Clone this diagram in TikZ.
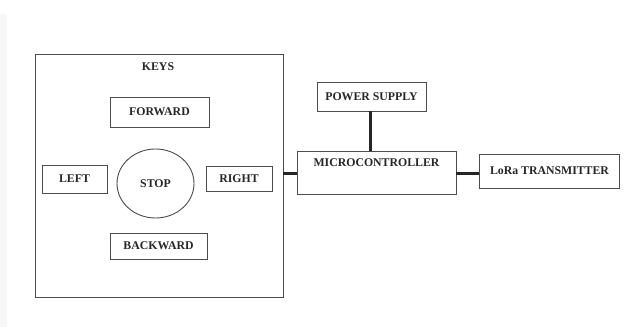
\documentclass[tikz,border=0pt]{standalone}
\usepackage{fontspec}
\setmainfont{Liberation Serif}
\usetikzlibrary{shapes.geometric}
\begin{document}
\begin{tikzpicture}[x=1pt,y=-1pt,
  blk/.style={draw=black!70, line width=0.9pt, inner sep=0pt, font=\fontsize{11.8}{13}\selectfont\bfseries, text=black!85},
  lbl/.style={inner sep=0pt, font=\fontsize{11.8}{13}\selectfont\bfseries, text=black!85},
  wire/.style={draw=black!85, line width=3pt}]
\useasboundingbox (0,0) rectangle (643,327);
\fill[black!3] (0,14) rectangle (7,327);
% keys frame
\node[blk, minimum width=248pt, minimum height=243pt] (keys) at (159,175.5) {};
\node[lbl] (keyslbl) at (158,67) {KEYS};
\node[blk, minimum width=99pt, minimum height=30pt] (fwd) at (159.5,112) {FORWARD};
\node[blk, minimum width=65pt, minimum height=28pt] (left) at (74.5,179) {LEFT};
\node[blk, ellipse, minimum width=77pt, minimum height=69pt] (stop) at (155.5,183.5) {STOP};
\node[blk, minimum width=66pt, minimum height=25pt] (right) at (239,178.5) {RIGHT};
\node[blk, minimum width=97pt, minimum height=26pt] (bwd) at (158.5,246) {BACKWARD};
% right side
\node[blk, minimum width=109pt, minimum height=29pt] (ps) at (371.5,96.5) {POWER SUPPLY};
\node[blk, minimum width=159pt, minimum height=43pt] (mcu) at (376.5,172.5) {};
\node[lbl] (mculbl) at (376.5,163) {MICROCONTROLLER};
\node[blk, minimum width=140pt, minimum height=34pt] (lora) at (549.5,171) {LoRa TRANSMITTER};
\coordinate (wy) at (0,173);
\coordinate (wx) at (370,0);
% wires
\draw[wire] (ps.south -| wx) -- (mcu.north -| wx);
\draw[wire] (keys.east |- wy) -- (mcu.west |- wy);
\draw[wire] (mcu.east |- wy) -- (lora.west |- wy);
\end{tikzpicture}
\end{document}
